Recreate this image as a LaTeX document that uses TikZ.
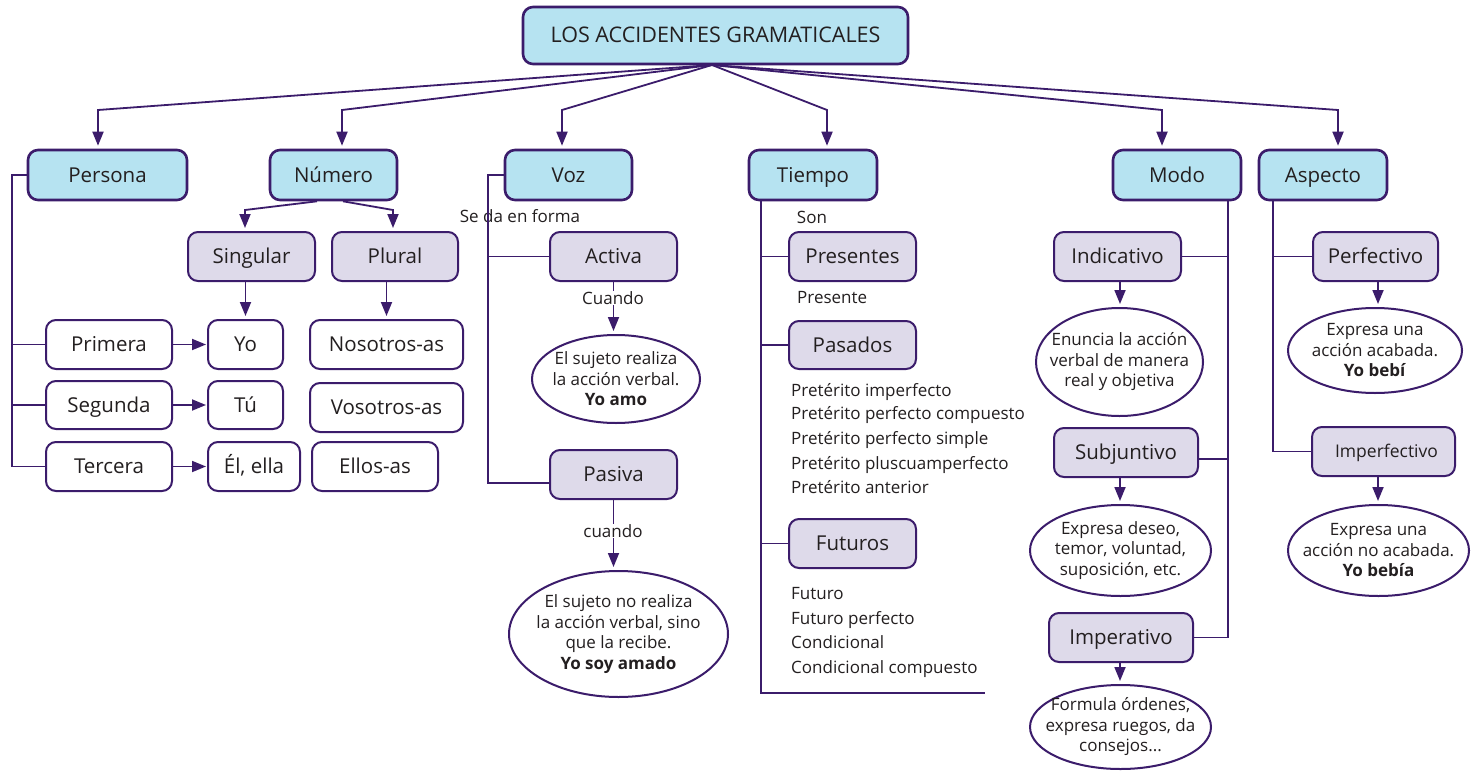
\documentclass[tikz,border=0pt]{standalone}
\usepackage{fontspec}
\setmainfont{Open Sans}
\usetikzlibrary{arrows.meta,shapes.geometric,calc}
\definecolor{pcol}{HTML}{3B1C6B}
\definecolor{bluef}{HTML}{B6E3F1}
\definecolor{lavf}{HTML}{DEDAEA}
\definecolor{txt}{HTML}{231F20}
\begin{document}
\begin{tikzpicture}[x=1pt,y=-1pt,
 base/.style={draw=pcol, rounded corners=10pt, inner sep=0pt, text=txt, anchor=center, text height=14.5pt, text depth=0pt},
 mainbox/.style={base, line width=2.6pt, fill=bluef, minimum height=50pt, font=\fontsize{20.5}{24}\selectfont},
 subbox/.style={base, line width=2pt, fill=lavf, minimum height=49pt, font=\fontsize{20.5}{24}\selectfont},
 wbox/.style={base, line width=2pt, fill=white, minimum height=49pt, font=\fontsize{20.5}{24}\selectfont},
 oval/.style={ellipse, draw=pcol, line width=2pt, inner sep=0pt},
 otext/.style={text=txt, align=center, inner sep=0pt, font=\fontsize{17}{20.5}\selectfont},
 lbl/.style={text=txt, inner sep=0pt, font=\fontsize{17}{20}\selectfont, text height=12pt, text depth=0pt},
 conn/.style={draw=pcol, line width=1.8pt},
 arr/.style={conn, -{Triangle[length=14pt,width=11pt]}, shorten >=3pt},
 harr/.style={conn, -{Triangle[length=14pt,width=11pt]}, shorten >=1pt},
]
\useasboundingbox (0,0) rectangle (1477,771);
\fill[white] (0,0) rectangle (1477,771);

% main boxes
\node[mainbox, minimum width=385pt, minimum height=57pt, font=\fontsize{21.5}{24}\selectfont] (top) at (715.5,35.5) {LOS ACCIDENTES GRAMATICALES};
\node[mainbox, minimum width=159pt] (persona) at (107.5,175) {Persona};
\node[mainbox, minimum width=127pt] (numero) at (333.5,175) {Número};
\node[mainbox, minimum width=127pt] (voz) at (568.5,175) {Voz};
\node[mainbox, minimum width=128pt] (tiempo) at (813,175) {Tiempo};
\node[mainbox, minimum width=128pt] (modo) at (1177,175) {Modo};
\node[mainbox, minimum width=128pt] (aspecto) at (1323,175) {Aspecto};

\coordinate (src) at (712,65);
\draw[arr] (src) -- (98,110) -- (98,0 |- persona.north);
\draw[arr] (src) -- (342,110) -- (342,0 |- numero.north);
\draw[arr] (src) -- (562,110) -- (562,0 |- voz.north);
\draw[arr] (src) -- (827,110) -- (827,0 |- tiempo.north);
\draw[arr] (src) -- (1162,110) -- (1162,0 |- modo.north);
\draw[arr] (src) -- (1338,110) -- (1338,0 |- aspecto.north);

% Persona / Numero
\node[subbox, minimum width=127pt] (singular) at (251.5,256.5) {Singular};
\node[subbox, minimum width=126pt] (plural) at (395,256.5) {Plural};
\node[wbox, minimum width=126pt] (primera) at (109,344.5) {Primera};
\node[wbox, minimum width=126pt, minimum height=48pt] (segunda) at (109,405) {Segunda};
\node[wbox, minimum width=126pt] (tercera) at (109,466.5) {Tercera};
\node[wbox, minimum width=75pt] (yo) at (245.5,344.5) {Yo};
\node[wbox, minimum width=75pt, minimum height=48pt] (tu) at (245.5,405) {Tú};
\node[wbox, minimum width=92pt] (el) at (254,466.5) {Él, ella};
\node[wbox, minimum width=153pt] (nos) at (386.5,344.5) {Nosotros-as};
\node[wbox, minimum width=153pt] (vos) at (386.5,407.5) {Vosotros-as};
\node[wbox, minimum width=126pt] (ellos) at (375,466.5) {Ellos-as};

\draw[conn] (persona.west) -- (12,175) -- (12,0 |- tercera.west) -- (tercera.west);
\draw[conn] (12,0 |- primera.west) -- (primera.west);
\draw[conn] (12,0 |- segunda.west) -- (segunda.west);
\draw[harr] (primera.east) -- (yo.west);
\draw[harr] (segunda.east) -- (tu.west);
\draw[harr] (tercera.east) -- (el.west);
\draw[arr] (317,0 |- numero.south) -- (245,210) -- (245,0 |- singular.north);
\draw[arr] (343,0 |- numero.south) -- (393,210) -- (393,0 |- plural.north);
\draw[arr] (singular.south -| yo.north) -- (yo.north);
\draw[arr] (plural.south -| nos.north) -- (nos.north);

% Voz
\node[subbox, minimum width=127pt] (activa) at (613.5,256.5) {Activa};
\node[subbox, minimum width=127pt] (pasiva) at (613.5,474.5) {Pasiva};
\node[lbl] (seda) at (520,216) {Se da en forma};
\draw[conn] (voz.west) -- (488,175) -- (488,483) -- (pasiva.west |- 0,483);
\draw[conn] (488,0 |- activa.west) -- (activa.west);
\node[oval, minimum width=168pt, minimum height=88pt] (ea) at (616,379) {};
\node[otext] at (ea) {El sujeto realiza\\la acción verbal.\\\textbf{Yo amo}};
\node[oval, minimum width=219pt, minimum height=126pt] (ep) at (618.5,634) {};
\node[otext] at (ep) {El sujeto no realiza\\la acción verbal, sino\\que la recibe.\\\textbf{Yo soy amado}};
\draw[arr] (activa.south) -- (activa.south |- ea.north);
\draw[arr] (pasiva.south) -- (pasiva.south |- ep.north);
\node[lbl, fill=white, inner sep=1pt] (cuando1) at (613,298) {Cuando};
\node[lbl, fill=white, inner sep=1pt] (cuando2) at (613,531) {cuando};

% Tiempo
\node[subbox, minimum width=127pt] (presentes) at (852.5,256.5) {Presentes};
\node[subbox, minimum width=127pt, minimum height=48pt] (pasados) at (852.5,345) {Pasados};
\node[subbox, minimum width=127pt] (futuros) at (852.5,543.5) {Futuros};
\draw[conn] (761,0 |- tiempo.south) -- (761,693) -- (985,693);
\draw[conn] (761,0 |- presentes.west) -- (presentes.west);
\draw[conn] (761,0 |- pasados.west) -- (pasados.west);
\draw[conn] (761,0 |- futuros.west) -- (futuros.west);
\node[lbl] (son) at (812,217) {Son};
\node[lbl, anchor=west] (presente) at (797,297) {Presente};
\foreach \t/\y in {Pretérito imperfecto/390, Pretérito perfecto compuesto/413, Pretérito perfecto simple/438, Pretérito pluscuamperfecto/463, Pretérito anterior/487}
  \node[lbl, anchor=west] at (791,\y) {\t};
\foreach \t/\y in {Futuro/593, Futuro perfecto/618, Condicional/642, Condicional compuesto/667}
  \node[lbl, anchor=west] at (791,\y) {\t};

% Modo
\node[subbox, minimum width=127pt] (indicativo) at (1117.5,256.5) {Indicativo};
\node[subbox, minimum width=144pt] (subjuntivo) at (1126,452.5) {Subjuntivo};
\node[subbox, minimum width=144pt] (imperativo) at (1121,637.5) {Imperativo};
\draw[conn] (1228,0 |- modo.south) -- (1228,0 |- imperativo.east) -- (imperativo.east);
\draw[conn] (indicativo.east) -- (1228,0 |- indicativo.east);
\draw[conn] (subjuntivo.east |- 0,459) -- (1228,459);
\node[oval, minimum width=167pt, minimum height=108pt] (ei) at (1119.5,362) {};
\node[otext] at (ei) {Enuncia la acción\\verbal de manera\\real y objetiva};
\node[oval, minimum width=181pt, minimum height=91pt] (es) at (1120.5,550.5) {};
\node[otext] at (es) {Expresa deseo,\\temor, voluntad,\\suposición, etc.};
\node[oval, minimum width=181pt, minimum height=84pt] (em) at (1120.5,727) {};
\node[otext] at (em) {Formula órdenes,\\expresa ruegos, da\\consejos...};
\draw[arr] (1120,0 |- indicativo.south) -- (1120,0 |- ei.north);
\draw[arr] (1120,0 |- subjuntivo.south) -- (1120,0 |- es.north);
\draw[arr] (1120,0 |- imperativo.south) -- (1120,0 |- em.north);

% Aspecto
\node[subbox, minimum width=125pt] (perfectivo) at (1375.5,256.5) {Perfectivo};
\node[subbox, minimum width=143pt, font=\fontsize{17.5}{20}\selectfont, text height=12.5pt] (imperfectivo) at (1383.5,451.5) {\hspace*{6pt}Imperfectivo};
\draw[conn] (1273,0 |- aspecto.south) -- (1273,0 |- imperfectivo.west) -- (imperfectivo.west);
\draw[conn] (1273,0 |- perfectivo.west) -- (perfectivo.west);
\node[oval, minimum width=174pt, minimum height=85pt] (epf) at (1375,350.5) {};
\node[otext] at (epf) {Expresa una\\acción acabada.\\\textbf{Yo bebí}};
\node[oval, minimum width=181pt, minimum height=91pt] (eim) at (1378.5,550.5) {};
\node[otext] at (eim) {Expresa una\\acción no acabada.\\\textbf{Yo bebía}};
\draw[arr] (1378,0 |- perfectivo.south) -- (1378,0 |- epf.north);
\draw[arr] (1378,0 |- imperfectivo.south) -- (1378,0 |- eim.north);
\end{tikzpicture}
\end{document}
